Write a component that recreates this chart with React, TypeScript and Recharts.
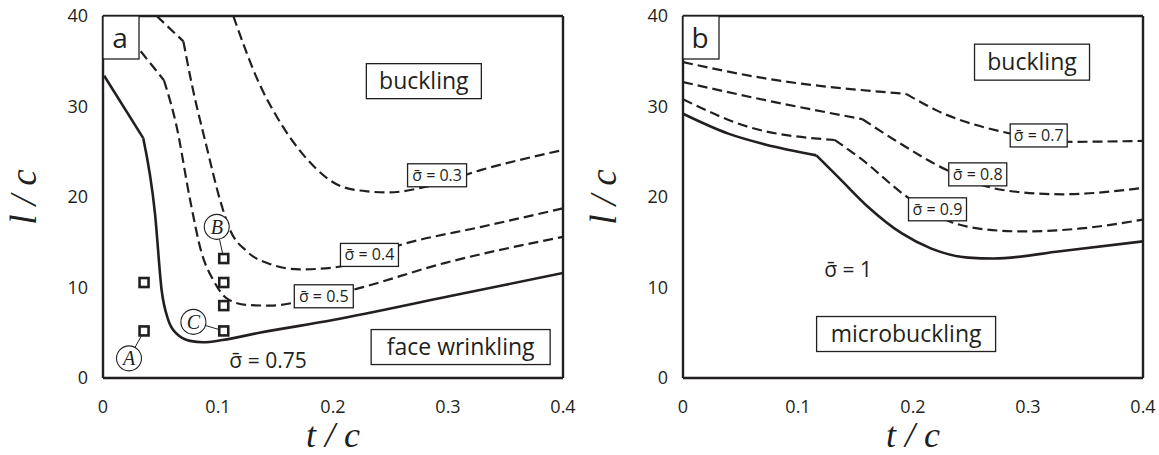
import React from 'react';
import { ComposedChart, Line, Scatter, XAxis, YAxis, ReferenceDot, ReferenceLine } from 'recharts';

const INK = '#231f20';
const SANS = '"Open Sans", "Noto Sans", sans-serif';
const SERIF = '"Liberation Serif", "DejaVu Serif", serif';

const tTicks = [0, 0.1, 0.2, 0.3, 0.4];
const lTicks = [0, 10, 20, 30, 40];
const innerT = [0.1, 0.2, 0.3];
const innerL = [10, 20, 30];

// panel a: face wrinkling / buckling. each curve is split at its kink
const a075Top = [{ t: 0.001, l: 33.4 }, { t: 0.035, l: 26.5 }];
const a075 = [
  { t: 0.035, l: 26.5 }, { t: 0.0452, l: 18.2 }, { t: 0.051, l: 9.7 },
  { t: 0.0568, l: 6.4 }, { t: 0.064, l: 4.9 }, { t: 0.0757, l: 4.1 }, { t: 0.087, l: 3.95 },
  { t: 0.104, l: 4.2 }, { t: 0.136, l: 5.0 }, { t: 0.2, l: 6.4 }, { t: 0.3, l: 9.0 }, { t: 0.4, l: 11.6 },
];
const a05Top = [{ t: 0.0328, l: 36.1 }, { t: 0.053, l: 32.9 }];
const a05 = [
  { t: 0.053, l: 32.9 }, { t: 0.064, l: 27.8 }, { t: 0.0757, l: 19.7 },
  { t: 0.0858, l: 13.8 }, { t: 0.096, l: 10.8 }, { t: 0.1076, l: 8.8 }, { t: 0.125, l: 8.07 },
  { t: 0.145, l: 8.0 }, { t: 0.17, l: 8.4 }, { t: 0.216, l: 9.7 }, { t: 0.297, l: 12.7 }, { t: 0.4, l: 15.6 },
];
const a04Top = [{ t: 0.0467, l: 40 }, { t: 0.0699, l: 37.2 }];
const a04 = [
  { t: 0.0699, l: 37.2 }, { t: 0.077, l: 32.6 }, { t: 0.09, l: 25.6 },
  { t: 0.1017, l: 19.7 }, { t: 0.11, l: 16.5 }, { t: 0.125, l: 14.0 }, { t: 0.145, l: 12.6 },
  { t: 0.171, l: 12.0 }, { t: 0.2, l: 12.2 }, { t: 0.264, l: 14.9 }, { t: 0.329, l: 16.7 }, { t: 0.4, l: 18.75 },
];
const a03 = [
  { t: 0.1133, l: 40 }, { t: 0.136, l: 32.5 }, { t: 0.151, l: 28.9 }, { t: 0.178, l: 24.1 },
  { t: 0.2087, l: 21.1 }, { t: 0.232, l: 20.6 }, { t: 0.248, l: 20.5 }, { t: 0.28, l: 21.1 },
  { t: 0.329, l: 23.0 }, { t: 0.4, l: 25.2 },
];
const aSquares = [
  { t: 0.0357, l: 10.55 }, { t: 0.0357, l: 5.2 },
  { t: 0.105, l: 13.2 }, { t: 0.105, l: 10.55 }, { t: 0.105, l: 8.0 }, { t: 0.105, l: 5.2 },
];

// panel b: microbuckling / buckling
const b1Top = [{ t: 0, l: 29.2 }, { t: 0.0394, l: 27.0 }, { t: 0.0715, l: 25.8 }, { t: 0.116, l: 24.6 }];
const b1 = [
  { t: 0.116, l: 24.6 }, { t: 0.135, l: 22.2 }, { t: 0.161, l: 18.9 }, { t: 0.19, l: 16.0 }, { t: 0.216, l: 14.3 },
  { t: 0.248, l: 13.3 }, { t: 0.27, l: 13.2 }, { t: 0.328, l: 14.0 }, { t: 0.4, l: 15.1 },
];
const b09Top = [{ t: 0, l: 30.8 }, { t: 0.0555, l: 27.8 }, { t: 0.132, l: 26.3 }];
const b09 = [
  { t: 0.132, l: 26.3 }, { t: 0.155, l: 24.2 },
  { t: 0.195, l: 20.0 }, { t: 0.232, l: 17.3 }, { t: 0.264, l: 16.4 }, { t: 0.296, l: 16.2 },
  { t: 0.344, l: 16.5 }, { t: 0.4, l: 17.5 },
];
const b08Top = [{ t: 0, l: 32.7 }, { t: 0.0716, l: 30.7 }, { t: 0.156, l: 28.6 }];
const b08 = [
  { t: 0.156, l: 28.6 }, { t: 0.184, l: 26.3 },
  { t: 0.229, l: 23.0 }, { t: 0.266, l: 21.1 }, { t: 0.296, l: 20.5 }, { t: 0.33, l: 20.3 }, { t: 0.4, l: 21.0 },
];
const b07Top = [{ t: 0, l: 34.9 }, { t: 0.0716, l: 33.1 }, { t: 0.194, l: 31.4 }];
const b07 = [
  { t: 0.194, l: 31.4 }, { t: 0.22, l: 29.6 },
  { t: 0.2815, l: 27.1 }, { t: 0.339, l: 26.1 }, { t: 0.4, l: 26.2 },
];

type P = { cx?: number; cy?: number };

const boxShape = (text: string, w: number, h: number, size: number) => (p: P) => (
  <g>
    <rect x={(p.cx ?? 0) - w / 2} y={(p.cy ?? 0) - h / 2} width={w} height={h} fill="#fff" stroke={INK} strokeWidth={1.3} />
    <text x={p.cx} y={p.cy} dy="0.33em" textAnchor="middle" fontFamily={SANS} fontSize={size} fill={INK}>{text}</text>
  </g>
);

const plainShape = (text: string, size: number) => (p: P) => (
  <text x={p.cx} y={p.cy} textAnchor="middle" fontFamily={SANS} fontSize={size} fill={INK}>{text}</text>
);

const panelShape = (letter: string) => (p: P) => (
  <g>
    <rect x={p.cx} y={p.cy} width={36} height={43} fill="#fff" stroke={INK} strokeWidth={1.3} />
    <text x={(p.cx ?? 0) + 17} y={(p.cy ?? 0) + 32} textAnchor="middle" fontFamily={SANS} fontSize={28} fill={INK}>{letter}</text>
  </g>
);

const circleShape = (letter: string) => (p: P) => (
  <g>
    <circle cx={p.cx} cy={p.cy} r={12.5} fill="#fff" stroke={INK} strokeWidth={1.1} />
    <text x={p.cx} y={p.cy} dy="0.34em" textAnchor="middle" fontFamily={SERIF} fontStyle="italic" fontSize={20} fill={INK}>{letter}</text>
  </g>
);

const squareShape = (p: P) => (
  <rect x={(p.cx ?? 0) - 4.5} y={(p.cy ?? 0) - 4.5} width={9} height={9} fill="#fff" stroke={INK} strokeWidth={2.6} />
);

const yTitle = (props: any) => {
  const vb = props.viewBox || { y: 16, height: 362 };
  const cy = vb.y + vb.height / 2;
  return (
    <text x={36} y={cy} transform={`rotate(-90 36 ${cy})`} textAnchor="middle" fontFamily={SERIF} fontStyle="italic" fontSize={37} fill={INK}>
      l / c
    </text>
  );
};

const border = { stroke: INK, strokeWidth: 2.4 };
const tickStroke = { stroke: INK, strokeWidth: 1.5 };
const tickFont = { fill: INK, fontSize: 18, fontFamily: SANS };

function axes() {
  return [
    <XAxis key="xb" type="number" dataKey="t" domain={[0, 0.4]} ticks={tTicks} allowDataOverflow tickLine={false} tickSize={0}
      tickMargin={22} axisLine={border} tick={tickFont} height={77}
      label={{ value: 't / c', position: 'insideBottom', offset: 8, fill: INK, fontSize: 36, fontFamily: SERIF, fontStyle: 'italic' }} />,
    <XAxis key="xm" xAxisId="xm" type="number" domain={[0, 0.4]} ticks={innerT} allowDataOverflow mirror tick={false}
      tickSize={8} tickLine={tickStroke} axisLine={false} />,
    <XAxis key="xt" xAxisId="xt" orientation="top" type="number" domain={[0, 0.4]} ticks={innerT} allowDataOverflow mirror
      tick={false} tickSize={8} tickLine={tickStroke} axisLine={border} />,
    <YAxis key="yl" type="number" domain={[0, 40]} ticks={lTicks} allowDataOverflow width={103} tickLine={false} tickSize={0}
      tickMargin={15} axisLine={border} tick={tickFont} label={yTitle} />,
    <YAxis key="ym" yAxisId="ym" type="number" domain={[0, 40]} ticks={innerL} allowDataOverflow mirror tick={false}
      tickSize={8} tickLine={tickStroke} axisLine={false} />,
    <YAxis key="yr" yAxisId="yr" orientation="right" type="number" domain={[0, 40]} ticks={innerL} allowDataOverflow mirror
      tick={false} tickSize={8} tickLine={tickStroke} axisLine={border} />,
  ];
}

const solid = { stroke: INK, strokeWidth: 2.6, dot: false, isAnimationActive: false, type: 'monotone' as const };
const dashed = { ...solid, strokeWidth: 2.2, strokeDasharray: '10 5' };

export default function App() {
  return (
    <div style={{ position: 'absolute', left: 0, top: 0, width: 1159, height: 455, background: '#fff' }}>
      <div style={{ position: 'absolute', left: 0, top: 0 }}>
        <ComposedChart width={580} height={455} margin={{ top: 16, right: 17, bottom: 0, left: 0 }}>
          {axes()}
          <Line data={a075Top} dataKey="l" {...solid} type="linear" />
          <Line data={a075} dataKey="l" {...solid} />
          <Line data={a05Top} dataKey="l" {...dashed} type="linear" />
          <Line data={a05} dataKey="l" {...dashed} />
          <Line data={a04Top} dataKey="l" {...dashed} type="linear" />
          <Line data={a04} dataKey="l" {...dashed} />
          <Line data={a03} dataKey="l" {...dashed} />
          <ReferenceLine segment={[{ x: 0.0226, y: 2.17 }, { x: 0.0357, y: 5.2 }]} stroke={INK} strokeWidth={1} />
          <ReferenceLine segment={[{ x: 0.0989, y: 16.7 }, { x: 0.105, y: 13.2 }]} stroke={INK} strokeWidth={1} />
          <ReferenceLine segment={[{ x: 0.0786, y: 6.2 }, { x: 0.105, y: 5.2 }]} stroke={INK} strokeWidth={1} />
          <Scatter data={aSquares} dataKey="l" shape={squareShape} isAnimationActive={false} />
          <ReferenceDot x={0.0226} y={2.17} shape={circleShape('A')} />
          <ReferenceDot x={0.0989} y={16.7} shape={circleShape('B')} />
          <ReferenceDot x={0.0786} y={6.2} shape={circleShape('C')} />
          <ReferenceDot x={0} y={40} shape={panelShape('a')} />
          <ReferenceDot x={0.279} y={32.8} shape={boxShape('buckling', 115, 35, 23)} />
          <ReferenceDot x={0.311} y={3.42} shape={boxShape('face wrinkling', 179, 35, 23)} />
          <ReferenceDot x={0.2905} y={22.4} shape={boxShape('σ̄ = 0.3', 59, 23, 16)} />
          <ReferenceDot x={0.2317} y={13.6} shape={boxShape('σ̄ = 0.4', 58, 23, 16)} />
          <ReferenceDot x={0.192} y={9.03} shape={boxShape('σ̄ = 0.5', 59, 23, 16)} />
          <ReferenceDot x={0.1435} y={1.1} shape={plainShape('σ̄ = 0.75', 21)} />
        </ComposedChart>
      </div>
      <div style={{ position: 'absolute', left: 580, top: 0 }}>
        <ComposedChart width={579} height={455} margin={{ top: 16, right: 16, bottom: 0, left: 0 }}>
          {axes()}
          <Line data={b1Top} dataKey="l" {...solid} />
          <Line data={b1} dataKey="l" {...solid} />
          <Line data={b09Top} dataKey="l" {...dashed} />
          <Line data={b09} dataKey="l" {...dashed} />
          <Line data={b08Top} dataKey="l" {...dashed} />
          <Line data={b08} dataKey="l" {...dashed} />
          <Line data={b07Top} dataKey="l" {...dashed} />
          <Line data={b07} dataKey="l" {...dashed} />
          <ReferenceDot x={0} y={40} shape={panelShape('b')} />
          <ReferenceDot x={0.3035} y={34.9} shape={boxShape('buckling', 115, 36, 23)} />
          <ReferenceDot x={0.3093} y={26.8} shape={boxShape('σ̄ = 0.7', 57, 23, 16)} />
          <ReferenceDot x={0.2563} y={22.5} shape={boxShape('σ̄ = 0.8', 58, 23, 16)} />
          <ReferenceDot x={0.2213} y={18.64} shape={boxShape('σ̄ = 0.9', 58, 23, 16)} />
          <ReferenceDot x={0.1436} y={11.2} shape={plainShape('σ̄ = 1', 21)} />
          <ReferenceDot x={0.194} y={4.86} shape={boxShape('microbuckling', 179, 35, 23)} />
        </ComposedChart>
      </div>
    </div>
  );
}
